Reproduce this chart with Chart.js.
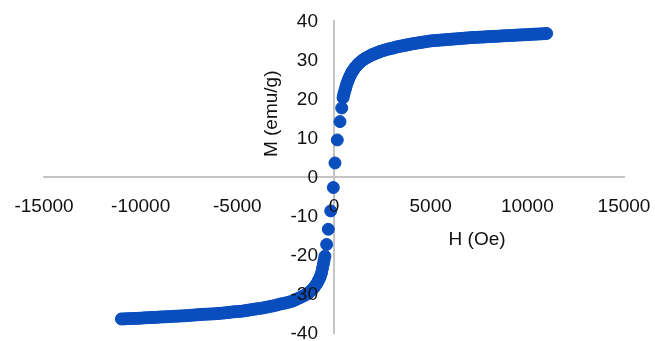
<!DOCTYPE html>
<html>
<head>
<meta charset="utf-8">
<script src="https://cdn.jsdelivr.net/npm/chart.js@4/dist/chart.umd.min.js"></script>
<style>
html,body{margin:0;padding:0;background:#fff;}
#wrap{width:655px;height:341px;position:relative;}
</style>
</head>
<body>
<div id="wrap"><canvas id="c" width="655" height="341"></canvas></div>
<script>
// Positive branch (H in Oe, M in emu/g)
const hPos = [50,170,310,400,470,500,530,565,600,635,670,710,750,790,830,875,920,960,1000,1050,1100,1150,1200,1250,1300,1350,1400,1450,1500,1575,1650,1725,1800,1875,1950,2025,2100,2175,2250,2325,2400,2500,2600,2700,2800,2900,3000,3100,3200,3300,3400,3500,3600,3700,3800,3900,4000,4125,4250,4375,4500,4625,4750,4875,5000,5125,5250,5375,5500,5625,5750,5875,6000,6125,6250,6375,6500,6625,6750,6875,7000,7125,7250,7375,7500,7625,7750,7875,8000,8125,8250,8375,8500,8625,8750,8875,9000,9125,9250,9375,9500,9625,9750,9875,10000,10125,10250,10375,10500,10625,10750,10875,11000];
const mPos = [3.6,9.5,14.2,17.7,20.3,21.0,21.6,22.2,22.8,23.4,24.0,24.5,25.0,25.5,25.9,26.4,26.8,27.1,27.4,27.8,28.1,28.4,28.7,29.0,29.2,29.4,29.6,29.8,30.0,30.3,30.5,30.7,30.9,31.1,31.3,31.45,31.6,31.75,31.9,32.05,32.2,32.35,32.5,32.65,32.8,32.9,33.0,33.15,33.3,33.4,33.5,33.6,33.7,33.8,33.9,34.0,34.1,34.2,34.3,34.4,34.5,34.6,34.7,34.8,34.9,34.95,35.0,35.05,35.1,35.15,35.2,35.25,35.3,35.35,35.4,35.45,35.5,35.55,35.6,35.65,35.7,35.75,35.8,35.82,35.85,35.88,35.9,35.95,36.0,36.02,36.05,36.08,36.1,36.15,36.2,36.22,36.25,36.28,36.3,36.35,36.4,36.42,36.45,36.48,36.5,36.55,36.6,36.62,36.65,36.68,36.7,36.75,36.8];
// Negative branch
const hNeg = [-35,-170,-295,-380,-470,-510,-550,-595,-640,-695,-750,-800,-850,-915,-985,-1040,-1100,-1175,-1250,-1325,-1400,-1500,-1590,-1700,-1800,-1900,-2000,-2100,-2200,-2350,-2500,-2650,-2800,-2950,-3100,-3250,-3400,-3550,-3700,-3850,-4000,-4125,-4250,-4375,-4500,-4625,-4750,-4875,-5000,-5125,-5250,-5375,-5500,-5625,-5750,-5875,-6000,-6125,-6250,-6375,-6500,-6625,-6750,-6875,-7000,-7125,-7250,-7375,-7500,-7625,-7750,-7875,-8000,-8125,-8250,-8375,-8500,-8625,-8750,-8875,-9000,-9125,-9250,-9375,-9500,-9625,-9750,-9875,-10000,-10125,-10250,-10375,-10500,-10625,-10750,-10875,-11000];
const mNeg = [-2.7,-8.7,-13.4,-17.3,-20.3,-21.3,-22.3,-23.4,-24.5,-25.3,-26.0,-26.5,-27.0,-27.5,-28.0,-28.4,-28.7,-29.1,-29.5,-29.8,-30.0,-30.3,-30.5,-30.8,-31.0,-31.25,-31.5,-31.7,-31.9,-32.1,-32.3,-32.45,-32.6,-32.8,-33.0,-33.15,-33.3,-33.45,-33.6,-33.7,-33.8,-33.9,-34.0,-34.1,-34.2,-34.3,-34.4,-34.45,-34.5,-34.55,-34.6,-34.68,-34.75,-34.82,-34.9,-34.95,-35.0,-35.05,-35.1,-35.12,-35.15,-35.18,-35.2,-35.25,-35.3,-35.35,-35.4,-35.45,-35.5,-35.55,-35.6,-35.62,-35.65,-35.68,-35.7,-35.75,-35.8,-35.82,-35.85,-35.88,-35.9,-35.95,-36.0,-36.02,-36.05,-36.08,-36.1,-36.15,-36.2,-36.22,-36.25,-36.28,-36.3,-36.32,-36.35,-36.38,-36.4];

const xTicks = [-15000,-10000,-5000,0,5000,10000,15000];
const yTicks = [-40,-30,-20,-10,0,10,20,30,40];
const xTitle = 'H (Oe)';
const yTitle = 'M (emu/g)';
// where the axis titles sit, in data units
const xTitleAt = {x: 7400, y: -16.2};
const yTitleAt = {x: -3200, y: 16.2};

const pts = [];
hNeg.forEach((h,i)=>pts.push({x:h,y:mNeg[i]}));
hPos.forEach((h,i)=>pts.push({x:h,y:mPos[i]}));

const FONT = 'Liberation Sans, Arial, Helvetica, sans-serif';
const BLUE = 'rgb(10,78,190)';
const AXIS = '#c4c4c4';
const TXT = '#111';

const labelPlugin = {
  id: 'axisText',
  afterDraw(chart){
    const {ctx, scales:{x, y}} = chart;
    const x0 = x.getPixelForValue(0), y0 = y.getPixelForValue(0);
    ctx.save();
    ctx.fillStyle = TXT;
    ctx.font = '19px ' + FONT;
    ctx.textAlign = 'center';
    ctx.textBaseline = 'middle';
    xTicks.forEach(v => ctx.fillText(String(v), x.getPixelForValue(v), y0 + 30));
    ctx.textAlign = 'right';
    yTicks.forEach(v => ctx.fillText(String(v), x0 - 16, y.getPixelForValue(v) + 1));
    ctx.textAlign = 'center';
    ctx.fillText(xTitle, x.getPixelForValue(xTitleAt.x), y.getPixelForValue(xTitleAt.y));
    ctx.translate(x.getPixelForValue(yTitleAt.x), y.getPixelForValue(yTitleAt.y));
    ctx.rotate(-Math.PI/2);
    ctx.fillText(yTitle, 0, 0);
    ctx.restore();
  }
};

new Chart(document.getElementById('c'), {
  type: 'scatter',
  data: { datasets: [{
    data: pts,
    backgroundColor: BLUE,
    borderColor: BLUE,
    borderWidth: 1,
    pointRadius: 6,
    pointHoverRadius: 6
  }]},
  options: {
    responsive: false,
    animation: false,
    layout: { padding: {left: 44, right: 31, top: 21, bottom: 8} },
    plugins: { legend: {display:false}, tooltip: {enabled:false} },
    scales: {
      x: {
        type: 'linear',
        min: -15000, max: 15000,
        position: {y: 0},
        afterBuildTicks: s => { s.ticks = xTicks.map(v=>({value:v})); },
        grid: {display:false, drawTicks:false},
        border: {display:true, color: AXIS, width: 2},
        ticks: {display:false}
      },
      y: {
        type: 'linear',
        min: -40, max: 40,
        position: {x: 0},
        afterBuildTicks: s => { s.ticks = yTicks.map(v=>({value:v})); },
        grid: {display:false, drawTicks:false},
        border: {display:true, color: AXIS, width: 2},
        ticks: {display:false}
      }
    }
  },
  plugins: [labelPlugin]
});
</script>
</body>
</html>
